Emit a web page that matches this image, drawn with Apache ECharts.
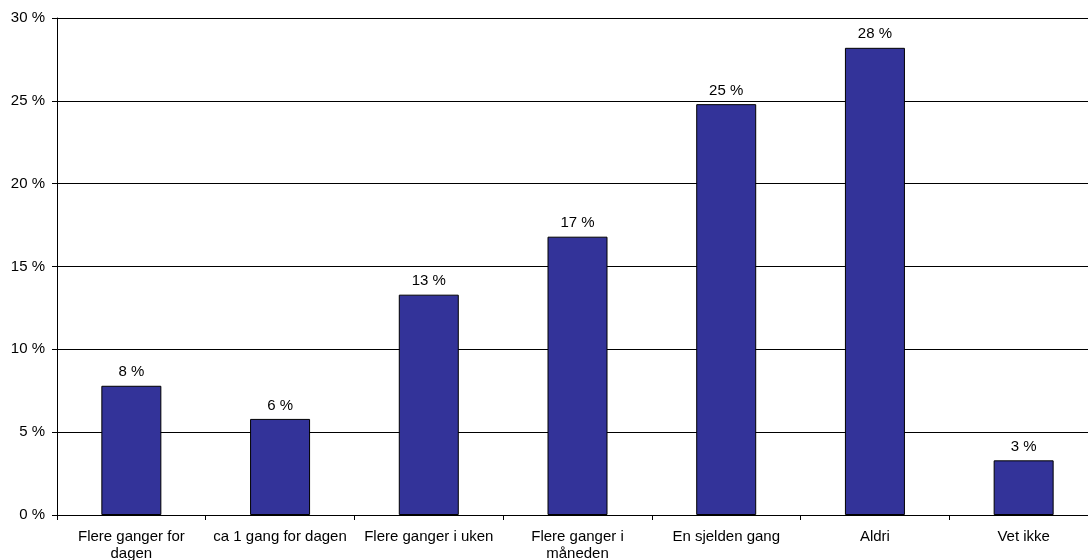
<!DOCTYPE html>
<html><head><meta charset="utf-8">
<script src="https://cdn.jsdelivr.net/npm/echarts@6/dist/echarts.min.js"></script>
<style>html,body{margin:0;padding:0;background:#fff;overflow:hidden}#c{width:1088px;height:560px}</style>
</head><body><div id="c"></div>
<script>
var categories = ["Flere ganger for\ndagen", "ca 1 gang for dagen", "Flere ganger i uken", "Flere ganger i\nmåneden", "En sjelden gang", "Aldri", "Vet ikke"];
var values = [7.8, 5.8, 13.3, 16.8, 24.8, 28.2, 3.3];
var yTicks = [0, 5, 10, 15, 20, 25, 30];

var chart = echarts.init(document.getElementById('c'), null, {renderer: 'canvas'});
chart.setOption({
  animation: false,
  textStyle: {fontFamily: 'Liberation Sans, Arial, sans-serif'},
  grid: {left: 57, right: -10, top: 18, bottom: 45, containLabel: false, outerBoundsMode: 'none'},
  xAxis: {
    type: 'category', data: categories,
    axisLine: {lineStyle: {color: '#000', width: 1}},
    axisTick: {show: true, length: 5, inside: false, lineStyle: {color: '#000'}},
    axisLabel: {color: '#000', fontSize: 15, margin: 13, lineHeight: 17, interval: 0}
  },
  yAxis: {
    type: 'value', min: yTicks[0], max: yTicks[yTicks.length - 1], interval: 5,
    axisLine: {show: true, lineStyle: {color: '#000', width: 1}},
    axisTick: {show: true, length: 5, lineStyle: {color: '#000'}},
    axisLabel: {color: '#000', fontSize: 15, margin: 12, formatter: function (v) { return v + ' %'; }},
    splitLine: {show: true, lineStyle: {color: '#000', width: 1}}
  },
  series: [{
    type: 'bar', data: values, barWidth: 60,
    itemStyle: {color: '#333399', borderColor: '#000', borderWidth: 1},
    label: {show: true, position: 'top', distance: 6, color: '#000', fontSize: 15,
      formatter: function (p) { return Math.round(p.value) + ' %'; }}
  }]
});
</script></body></html>
